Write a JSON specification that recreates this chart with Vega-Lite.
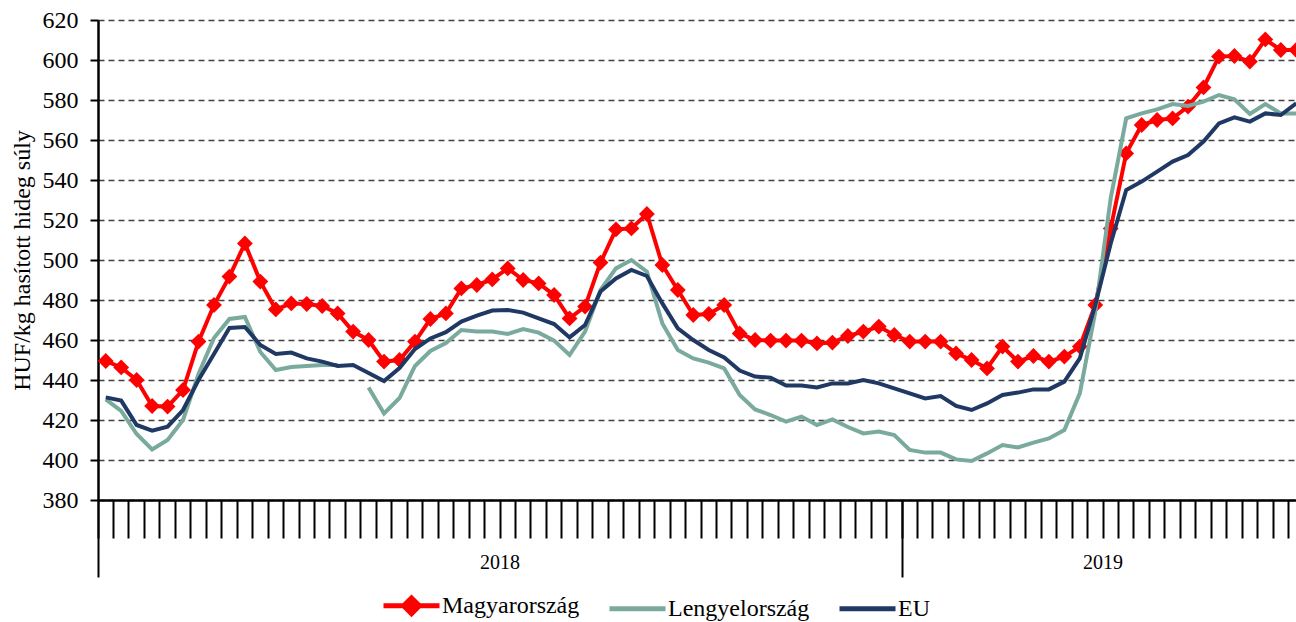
{
  "$schema": "https://vega.github.io/schema/vega-lite/v6.json",
  "width": 1206,
  "height": 480,
  "autosize": "none",
  "padding": {"left": 98, "top": 20, "right": -8, "bottom": 122},
  "background": "white",
  "config": {
    "font": "Liberation Serif",
    "view": {"stroke": null},
    "axisY": {"values": [380,400,420,440,460,480,500,520,540,560,580,600,620], "tickCount": 13, "labelOverlap": false, "grid": true, "gridDash": [6, 4], "gridColor": "#404040", "gridWidth": 1.3, "domainColor": "black", "domainWidth": 2.5, "tickColor": "black", "tickWidth": 2, "tickSize": 8, "labelFontSize": 24, "labelFont": "Liberation Serif", "labelColor": "black", "labelPadding": 12, "titleFont": "Liberation Serif", "titleFontSize": 24, "titleFontWeight": "normal", "titleColor": "black", "titlePadding": 8}
  },
  "data": {"values": [
    {"het":"2018-01","Magyarország":449.5,"Lengyelország":430.3,"EU":431.3},
    {"het":"2018-02","Magyarország":446.3,"Lengyelország":424.5,"EU":429.7},
    {"het":"2018-03","Magyarország":440,"Lengyelország":413,"EU":417.5},
    {"het":"2018-04","Magyarország":427,"Lengyelország":405.3,"EU":414.7},
    {"het":"2018-05","Magyarország":426.7,"Lengyelország":410,"EU":416.7},
    {"het":"2018-06","Magyarország":435,"Lengyelország":420,"EU":425},
    {"het":"2018-07","Magyarország":459.2,"Lengyelország":443,"EU":440},
    {"het":"2018-08","Magyarország":477.5,"Lengyelország":461,"EU":453},
    {"het":"2018-09","Magyarország":491.7,"Lengyelország":470.5,"EU":466},
    {"het":"2018-10","Magyarország":508.3,"Lengyelország":471.5,"EU":466.5},
    {"het":"2018-11","Magyarország":489.2,"Lengyelország":454,"EU":457.5},
    {"het":"2018-12","Magyarország":475.3,"Lengyelország":445,"EU":453},
    {"het":"2018-13","Magyarország":478.3,"Lengyelország":446.5,"EU":453.7},
    {"het":"2018-14","Magyarország":478,"Lengyelország":447,"EU":450.8},
    {"het":"2018-15","Magyarország":477,"Lengyelország":447.5,"EU":449.2},
    {"het":"2018-16","Magyarország":473.3,"Lengyelország":447.5,"EU":447},
    {"het":"2018-17","Magyarország":464.2,"Lengyelország":null,"EU":447.5},
    {"het":"2018-18","Magyarország":460,"Lengyelország":436.3,"EU":443.5},
    {"het":"2018-19","Magyarország":449.2,"Lengyelország":423.3,"EU":439.5},
    {"het":"2018-20","Magyarország":450,"Lengyelország":431,"EU":446},
    {"het":"2018-21","Magyarország":459.2,"Lengyelország":447,"EU":455.5},
    {"het":"2018-22","Magyarország":470.5,"Lengyelország":454.5,"EU":460.8},
    {"het":"2018-23","Magyarország":473.3,"Lengyelország":458.5,"EU":463.9},
    {"het":"2018-24","Magyarország":485.8,"Lengyelország":465,"EU":469.2},
    {"het":"2018-25","Magyarország":487.5,"Lengyelország":464.2,"EU":472.2},
    {"het":"2018-26","Magyarország":490.3,"Lengyelország":464.2,"EU":474.7},
    {"het":"2018-27","Magyarország":495.8,"Lengyelország":463,"EU":475},
    {"het":"2018-28","Magyarország":490,"Lengyelország":465.5,"EU":473.7},
    {"het":"2018-29","Magyarország":488.3,"Lengyelország":463.7,"EU":470.8},
    {"het":"2018-30","Magyarország":482.5,"Lengyelország":459.7,"EU":468},
    {"het":"2018-31","Magyarország":470.8,"Lengyelország":452.5,"EU":461.3},
    {"het":"2018-32","Magyarország":476.7,"Lengyelország":464.2,"EU":467.5},
    {"het":"2018-33","Magyarország":498.7,"Lengyelország":485,"EU":484.2},
    {"het":"2018-34","Magyarország":515.3,"Lengyelország":495.8,"EU":490.8},
    {"het":"2018-35","Magyarország":515.8,"Lengyelország":500,"EU":495},
    {"het":"2018-36","Magyarország":523,"Lengyelország":494.2,"EU":492},
    {"het":"2018-37","Magyarország":497.5,"Lengyelország":468.3,"EU":478.3},
    {"het":"2018-38","Magyarország":485,"Lengyelország":455,"EU":465.8},
    {"het":"2018-39","Magyarország":472.5,"Lengyelország":450.8,"EU":460},
    {"het":"2018-40","Magyarország":473,"Lengyelország":448.7,"EU":455},
    {"het":"2018-41","Magyarország":477.5,"Lengyelország":445.8,"EU":451.3},
    {"het":"2018-42","Magyarország":463.3,"Lengyelország":432.5,"EU":444.7},
    {"het":"2018-43","Magyarország":460,"Lengyelország":425.3,"EU":441.7},
    {"het":"2018-44","Magyarország":459.7,"Lengyelország":422.5,"EU":441.2},
    {"het":"2018-45","Magyarország":459.7,"Lengyelország":419.2,"EU":437.2},
    {"het":"2018-46","Magyarország":459.7,"Lengyelország":421.7,"EU":437.2},
    {"het":"2018-47","Magyarország":458.3,"Lengyelország":417.5,"EU":436.3},
    {"het":"2018-48","Magyarország":458.7,"Lengyelország":420.3,"EU":438.3},
    {"het":"2018-49","Magyarország":462,"Lengyelország":416.5,"EU":438.3},
    {"het":"2018-50","Magyarország":464.2,"Lengyelország":413.3,"EU":440},
    {"het":"2018-51","Magyarország":466.7,"Lengyelország":414.2,"EU":438.3},
    {"het":"2018-52","Magyarország":462.5,"Lengyelország":412.5,"EU":435.8},
    {"het":"2019-01","Magyarország":459.2,"Lengyelország":405,"EU":433.3},
    {"het":"2019-02","Magyarország":459.2,"Lengyelország":403.7,"EU":430.8},
    {"het":"2019-03","Magyarország":459.2,"Lengyelország":403.7,"EU":432},
    {"het":"2019-04","Magyarország":453.3,"Lengyelország":400.3,"EU":427},
    {"het":"2019-05","Magyarország":450,"Lengyelország":399.5,"EU":425},
    {"het":"2019-06","Magyarország":445.8,"Lengyelország":403.3,"EU":428.3},
    {"het":"2019-07","Magyarország":456.7,"Lengyelország":407.5,"EU":432.5},
    {"het":"2019-08","Magyarország":449.2,"Lengyelország":406.3,"EU":433.7},
    {"het":"2019-09","Magyarország":452,"Lengyelország":408.7,"EU":435.3},
    {"het":"2019-10","Magyarország":449.2,"Lengyelország":410.8,"EU":435.3},
    {"het":"2019-11","Magyarország":451.7,"Lengyelország":415,"EU":439.2},
    {"het":"2019-12","Magyarország":456.7,"Lengyelország":433.3,"EU":450.8},
    {"het":"2019-13","Magyarország":477.5,"Lengyelország":474,"EU":477.5},
    {"het":"2019-14","Magyarország":515.8,"Lengyelország":531,"EU":508.3},
    {"het":"2019-15","Magyarország":553.3,"Lengyelország":570.8,"EU":535},
    {"het":"2019-16","Magyarország":567.5,"Lengyelország":573.3,"EU":539.2},
    {"het":"2019-17","Magyarország":570,"Lengyelország":575.3,"EU":544.2},
    {"het":"2019-18","Magyarország":570.8,"Lengyelország":578,"EU":549.2},
    {"het":"2019-19","Magyarország":576.7,"Lengyelország":577,"EU":552.5},
    {"het":"2019-20","Magyarország":586.3,"Lengyelország":579.2,"EU":559.2},
    {"het":"2019-21","Magyarország":601.7,"Lengyelország":582.5,"EU":568.3},
    {"het":"2019-22","Magyarország":602,"Lengyelország":580.3,"EU":571.3},
    {"het":"2019-23","Magyarország":599.2,"Lengyelország":573,"EU":569.2},
    {"het":"2019-24","Magyarország":610.3,"Lengyelország":578,"EU":573.3},
    {"het":"2019-25","Magyarország":605,"Lengyelország":573.3,"EU":572.5},
    {"het":"2019-26","Magyarország":605,"Lengyelország":573.3,"EU":578.3}
  ]},
  "transform": [{"fold": ["Magyarország", "Lengyelország", "EU"], "as": ["orszag", "ar"]}],
  "resolve": {"axis": {"x": "independent"}},
  "layer": [
    {
      "transform": [{"filter": "datum.orszag === 'Magyarország'"}],
      "mark": {"type": "line", "strokeWidth": 4, "invalid": "break-paths-show-domains"},
      "encoding": {
        "x": {"field": "het", "type": "ordinal", "scale": {"type": "band", "paddingInner": 0, "paddingOuter": 0},
          "axis": {"orient": "bottom", "title": null, "labels": false, "bandPosition": 0, "tickSize": 38, "tickWidth": 2, "tickColor": "black", "domainColor": "black", "domainWidth": 2.5, "grid": false}},
        "y": {"field": "ar", "type": "quantitative", "scale": {"domain": [380, 620], "nice": false, "zero": false},
          "axis": {"values": [380,400,420,440,460,480,500,520,540,560,580,600,620], "labelOverlap": false, "title": "HUF/kg hasított hideg súly"}},
        "color": {"field": "orszag", "type": "nominal",
          "scale": {"domain": ["Magyarország", "Lengyelország", "EU"], "range": ["#ff0000", "#7aaa9d", "#1f3864"]},
          "legend": {"orient": "none", "legendX": 283, "legendY": 555, "direction": "horizontal", "columns": 3, "title": null, "symbolType": "stroke", "symbolSize": 3136, "symbolStrokeWidth": 5, "labelFont": "Liberation Serif", "labelFontSize": 24, "labelColor": "black", "labelOffset": 0, "columnPadding": 19, "padding": 0, "labelLimit": 0,
            "encode": {"symbols": {"update": {"shape": {"signal": "datum.value === 'Magyarország' ? 'M-1,0H1M0,-0.28L0.28,0L0,0.28L-0.28,0Z' : 'M-1,0H1'"}, "fill": {"scale": "color", "field": "value"}, "stroke": {"scale": "color", "field": "value"}, "opacity": {"value": 1}}}}}}
      }
    },
    {
      "transform": [{"filter": "datum.orszag === 'Magyarország'"}],
      "mark": {"type": "point", "shape": "diamond", "filled": true, "size": 250, "color": "#ff0000", "opacity": 1},
      "encoding": {
        "x": {"field": "het", "type": "ordinal",
          "axis": {"orient": "bottom", "title": null, "values": ["2018-01", "2019-01"], "bandPosition": 0, "tickSize": 77, "tickWidth": 2, "tickColor": "black", "labels": false, "domain": false, "grid": false}},
        "y": {"field": "ar", "type": "quantitative",
          "axis": {"values": [380,400,420,440,460,480,500,520,540,560,580,600,620], "labelOverlap": false, "title": "HUF/kg hasított hideg súly"}}
      }
    },
    {
      "transform": [{"filter": "datum.orszag === 'Lengyelország'"}],
      "mark": {"type": "line", "strokeWidth": 4, "invalid": "break-paths-show-domains"},
      "encoding": {
        "x": {"field": "het", "type": "ordinal",
          "axis": {"orient": "bottom", "title": null, "values": ["2018-27", "2019-14"], "ticks": false, "tickSize": 0, "domain": false, "grid": false, "labelExpr": "slice(datum.value, 0, 4)", "labelAngle": 0, "labelAlign": "center", "labelBaseline": "top", "labelFontSize": 20, "labelFont": "Liberation Serif", "labelColor": "black", "labelPadding": 52, "labelOffset": -7.7}},
        "y": {"field": "ar", "type": "quantitative",
          "axis": {"values": [380,400,420,440,460,480,500,520,540,560,580,600,620], "labelOverlap": false, "title": "HUF/kg hasított hideg súly"}},
        "color": {"field": "orszag", "type": "nominal"}
      }
    },
    {
      "transform": [{"filter": "datum.orszag === 'EU'"}],
      "mark": {"type": "line", "strokeWidth": 4, "invalid": "break-paths-show-domains"},
      "encoding": {
        "x": {"field": "het", "type": "ordinal", "axis": null},
        "y": {"field": "ar", "type": "quantitative",
          "axis": {"values": [380,400,420,440,460,480,500,520,540,560,580,600,620], "labelOverlap": false, "title": "HUF/kg hasított hideg súly"}},
        "color": {"field": "orszag", "type": "nominal"}
      }
    }
  ]
}
